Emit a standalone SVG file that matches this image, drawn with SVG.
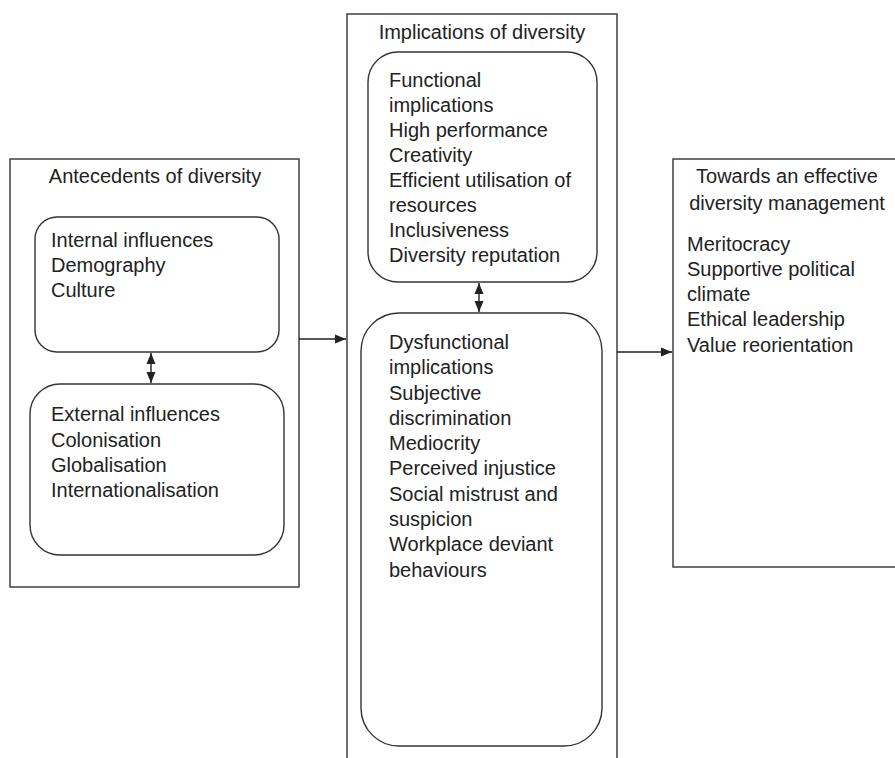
<svg xmlns="http://www.w3.org/2000/svg" width="895" height="758" viewBox="0 0 895 758">
<defs>
<marker id="ah" markerUnits="userSpaceOnUse" markerWidth="12" markerHeight="10" refX="11" refY="5" orient="auto-start-reverse">
<path d="M0,0.5 L11,5 L0,9.5 z" fill="#222"/>
</marker>
<style>
.box{fill:#fff;stroke:#333;stroke-width:1.4}
.t{font-family:"Liberation Sans",Arial,sans-serif;font-size:20px;fill:#222}
.c{text-anchor:middle}
.con{stroke:#222;stroke-width:1.4;fill:none}
</style>
</defs>
<rect width="895" height="758" fill="#fff"/>

<g id="antecedents">
<rect class="box" x="10" y="159" width="289" height="428"/>
<text class="t c" x="155" y="183">Antecedents of diversity</text>
</g>
<g id="internal">
<rect class="box" x="35" y="217" width="244" height="135" rx="22"/>
<text class="t" x="51" y="247">Internal influences</text>
<text class="t" x="51" y="272">Demography</text>
<text class="t" x="51" y="297">Culture</text>
</g>
<g id="external">
<rect class="box" x="30" y="384" width="254" height="171" rx="30"/>
<text class="t" x="51" y="421">External influences</text>
<text class="t" x="51" y="447">Colonisation</text>
<text class="t" x="51" y="472">Globalisation</text>
<text class="t" x="51" y="497">Internationalisation</text>
</g>

<g id="implications">
<rect class="box" x="347" y="14" width="270" height="760"/>
<text class="t c" x="482" y="39">Implications of diversity</text>
</g>
<g id="functional">
<rect class="box" x="368" y="52" width="229" height="230" rx="30"/>
<text class="t" x="389" y="87">Functional</text>
<text class="t" x="389" y="112">implications</text>
<text class="t" x="389" y="137">High performance</text>
<text class="t" x="389" y="162">Creativity</text>
<text class="t" x="389" y="187">Efficient utilisation of</text>
<text class="t" x="389" y="212">resources</text>
<text class="t" x="389" y="237">Inclusiveness</text>
<text class="t" x="389" y="262">Diversity reputation</text>
</g>
<g id="dysfunctional">
<rect class="box" x="361" y="313" width="241" height="433" rx="38"/>
<text class="t" x="389" y="349">Dysfunctional</text>
<text class="t" x="389" y="374">implications</text>
<text class="t" x="389" y="400">Subjective</text>
<text class="t" x="389" y="425">discrimination</text>
<text class="t" x="389" y="450">Mediocrity</text>
<text class="t" x="389" y="475">Perceived injustice</text>
<text class="t" x="389" y="501">Social mistrust and</text>
<text class="t" x="389" y="526">suspicion</text>
<text class="t" x="389" y="551">Workplace deviant</text>
<text class="t" x="389" y="577">behaviours</text>
</g>

<g id="management">
<rect class="box" x="673" y="159" width="240" height="408"/>
<text class="t c" x="787" y="183">Towards an effective</text>
<text class="t c" x="787" y="210">diversity management</text>
<text class="t" x="687" y="251">Meritocracy</text>
<text class="t" x="687" y="276">Supportive political</text>
<text class="t" x="687" y="301">climate</text>
<text class="t" x="687" y="326">Ethical leadership</text>
<text class="t" x="687" y="352">Value reorientation</text>
</g>

<g id="connectors">
<line class="con" x1="299" y1="339" x2="346" y2="339" marker-end="url(#ah)"/>
<line class="con" x1="617" y1="352" x2="672" y2="352" marker-end="url(#ah)"/>
<line class="con" x1="151" y1="353" x2="151" y2="383" marker-start="url(#ah)" marker-end="url(#ah)"/>
<line class="con" x1="479" y1="283" x2="479" y2="312" marker-start="url(#ah)" marker-end="url(#ah)"/>
</g>
</svg>
